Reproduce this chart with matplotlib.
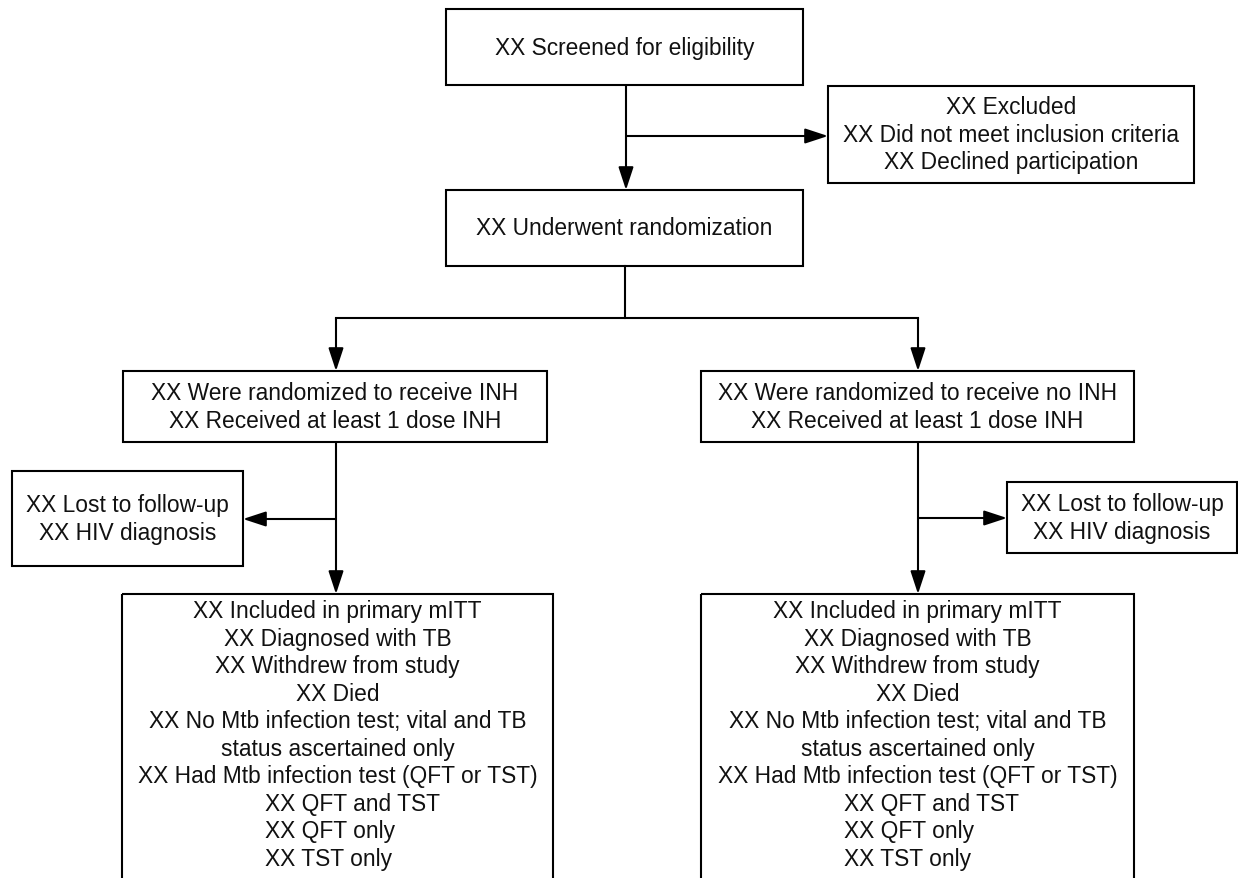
import matplotlib
matplotlib.use('Agg')
import matplotlib.pyplot as plt
from matplotlib.patches import Rectangle

plt.rcParams['font.family'] = ['Liberation Sans', 'DejaVu Sans']

# texts of the flow diagram
screened = ['XX Screened for eligibility']
excluded = ['XX Excluded', 'XX Did not meet inclusion criteria', 'XX Declined participation']
randomized = ['XX Underwent randomization']
inh_arm = ['XX Were randomized to receive INH', 'XX Received at least 1 dose INH']
no_inh_arm = ['XX Were randomized to receive no INH', 'XX Received at least 1 dose INH']
lost = ['XX Lost to follow-up', 'XX HIV diagnosis']
outcomes = ['XX Included in primary mITT', 'XX Diagnosed with TB', 'XX Withdrew from study',
            'XX Died', 'XX No Mtb infection test; vital and TB', 'status ascertained only',
            'XX Had Mtb infection test (QFT or TST)']
test_types = ['XX QFT and TST', 'XX QFT only', 'XX TST only']

# layout in pixels (x0, y0, x1, y1), y going down
W, H = 1238, 879
LW = 1.5
FS = 16.4
LINE = 27.5

fig = plt.figure(figsize=(W / 100, H / 100), dpi=100)
ax = fig.add_axes([0, 0, 1, 1])
ax.set_xlim(0, W)
ax.set_ylim(H, 0)
ax.axis('off')


def rect(x0, y0, x1, y1):
    ax.add_patch(Rectangle((x0, y0), x1 - x0, y1 - y0, fill=False, lw=LW, ec='black', zorder=2))


def block(cx, cy, lines):
    n = len(lines)
    for i, t in enumerate(lines):
        ax.text(cx, cy + (i - (n - 1) / 2) * LINE, t, ha='center', va='center',
                fontsize=FS, color='#111111')


def box(x0, y0, x1, y1, lines):
    rect(x0, y0, x1, y1)
    block((x0 + x1) / 2, (y0 + y1) / 2, lines)


def line(xs, ys):
    ax.plot(xs, ys, color='black', lw=LW, solid_capstyle='projecting', zorder=1)


def arrow(x0, y0, x1, y1):
    ax.annotate('', xy=(x1, y1), xytext=(x0, y0),
                arrowprops=dict(arrowstyle='-|>,head_length=0.7,head_width=0.23',
                                mutation_scale=20, lw=LW, color='black',
                                shrinkA=0, shrinkB=0))


box(446, 10, 803, 86, screened)
box(828, 87, 1194, 184, excluded)
box(446, 191, 803, 267, randomized)
box(123, 372, 547, 443, inh_arm)
box(701, 372, 1134, 443, no_inh_arm)
box(12, 472, 243, 567, lost)
box(1007, 483, 1237, 554, lost)


def outcome_box(x0, x1):
    rect(x0, 595, x1, H + 20)
    cx = (x0 + x1) / 2
    for i, t in enumerate(outcomes):
        ax.text(cx, 612 + i * LINE, t, ha='center', va='center', fontsize=FS, color='#111111')
    for k, t in enumerate(test_types):
        ax.text(x0 + 143, 612 + (len(outcomes) + k) * LINE, t, ha='left', va='center',
                fontsize=FS, color='#111111')


outcome_box(122, 553)
outcome_box(701, 1134)

# connectors
arrow(626, 86, 626, 191)
arrow(626, 137, 828, 137)
line([625, 625], [267, 319])
line([336, 918], [319, 319])
arrow(336, 319, 336, 372)
arrow(918, 319, 918, 372)
arrow(336, 443, 336, 595)
arrow(336, 520, 243, 520)
arrow(918, 443, 918, 595)
arrow(918, 519, 1007, 519)

fig.savefig('out.png', dpi=100, facecolor='white')
